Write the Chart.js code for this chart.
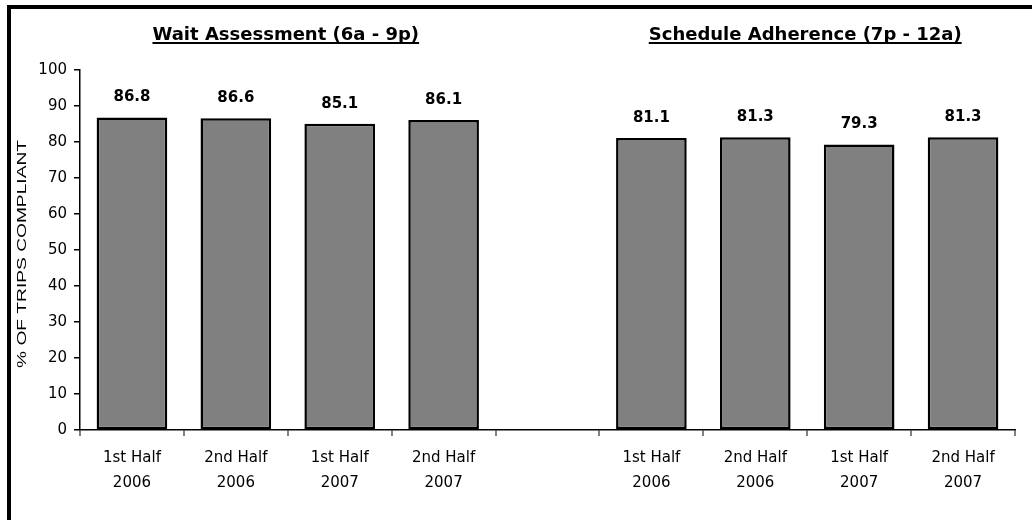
<!DOCTYPE html>
<html>
<head>
<meta charset="utf-8">
<title>Trip Compliance</title>
<script src="https://cdn.jsdelivr.net/npm/chart.js@4.4.1/dist/chart.umd.min.js"></script>
<style>
  html, body { margin: 0; padding: 0; background: #fff; overflow: hidden; }
  #wrap { position: relative; width: 1032px; height: 520px; }
</style>
</head>
<body>
<div id="wrap"><canvas id="c" width="1032" height="520"></canvas></div>
<script>
// Reporting periods shown under each group
const periods = [['1st Half', '2006'], ['2nd Half', '2006'], ['1st Half', '2007'], ['2nd Half', '2007']];
// Wait Assessment (6a - 9p), % of trips compliant
const waitValues = [86.8, 86.6, 85.1, 86.1];
// Schedule Adherence (7p - 12a), % of trips compliant
const scheduleValues = [81.1, 81.3, 79.3, 81.3];
// Group headings
const groupTitles = ['Wait Assessment (6a - 9p)', 'Schedule Adherence (7p - 12a)'];
// Y axis ticks
const yMin = 0, yMax = 100, yStep = 10;
const yTitle = '% OF TRIPS COMPLIANT';

// one empty slot separates the two groups
const labels = [...periods, '', ...periods];
const values = [...waitValues, null, ...scheduleValues];

const FONT = '"DejaVu Sans", Verdana, sans-serif';

const framePlugin = {
  id: 'frame',
  afterDraw(chart) {
    const ctx = chart.ctx;
    ctx.save();
    ctx.fillStyle = '#000';
    ctx.fillRect(7, 5, 4, chart.height - 5);
    ctx.fillRect(7, 5, chart.width - 7, 4);
    ctx.restore();
  }
};

const valueLabels = {
  id: 'valueLabels',
  afterDatasetsDraw(chart) {
    const ctx = chart.ctx;
    const meta = chart.getDatasetMeta(0);
    ctx.save();
    ctx.font = 'bold 15px ' + FONT;
    ctx.fillStyle = '#000';
    ctx.textAlign = 'center';
    ctx.textBaseline = 'middle';
    meta.data.forEach((bar, i) => {
      const v = values[i];
      if (v == null) return;
      ctx.fillText(v.toFixed(1), bar.x, bar.y - 20);
    });
    ctx.restore();
  }
};

// rotated axis title, drawn stretched along its length
const axisTitle = {
  id: 'axisTitle',
  afterDraw(chart) {
    const ctx = chart.ctx;
    const area = chart.chartArea;
    ctx.save();
    ctx.font = '12.5px "Liberation Sans", Arial, sans-serif';
    ctx.fillStyle = '#000';
    ctx.textAlign = 'center';
    ctx.textBaseline = 'middle';
    const w = ctx.measureText(yTitle).width;
    ctx.translate(23, (area.top + area.bottom) / 2 + 4);
    ctx.rotate(-Math.PI / 2);
    ctx.scale(228 / w, 1);
    ctx.fillText(yTitle, 0, 0);
    ctx.restore();
  }
};

const groupHeadings = {
  id: 'groupHeadings',
  afterDraw(chart) {
    const ctx = chart.ctx;
    const x = chart.scales.x;
    const n = periods.length;
    const centers = [
      (x.getPixelForValue(0) + x.getPixelForValue(n - 1)) / 2 - 2,
      (x.getPixelForValue(n + 1) + x.getPixelForValue(2 * n)) / 2 - 2
    ];
    ctx.save();
    ctx.font = 'bold 18px ' + FONT;
    ctx.fillStyle = '#000';
    ctx.strokeStyle = '#000';
    ctx.textAlign = 'center';
    ctx.textBaseline = 'alphabetic';
    const base = 40;
    groupTitles.forEach((t, i) => {
      ctx.fillText(t, centers[i], base);
      const w = ctx.measureText(t).width;
      ctx.lineWidth = 2;
      ctx.beginPath();
      ctx.moveTo(centers[i] - w / 2, base + 3);
      ctx.lineTo(centers[i] + w / 2, base + 3);
      ctx.stroke();
    });
    ctx.restore();
  }
};

new Chart(document.getElementById('c'), {
  type: 'bar',
  data: {
    labels: labels,
    datasets: [{
      data: values,
      backgroundColor: '#808080',
      borderColor: '#000',
      borderWidth: 2.5,
      borderSkipped: false,
      categoryPercentage: 1,
      barPercentage: 0.68
    }]
  },
  options: {
    responsive: false,
    animation: false,
    devicePixelRatio: 1,
    layout: { padding: { left: 11, right: 17, top: 70, bottom: 30 } },
    plugins: {
      legend: { display: false },
      tooltip: { enabled: false },
      title: { display: false }
    },
    scales: {
      x: {
        grid: {
          offset: true,
          drawOnChartArea: false,
          drawTicks: true,
          tickLength: 6,
          color: '#808080',
          lineWidth: 2
        },
        border: { color: '#000', width: 1.5 },
        ticks: {
          color: '#000',
          font: { family: FONT, size: 15, lineHeight: 1.65 },
          padding: 10,
          autoSkip: false,
          maxRotation: 0
        },
        afterFit(scale) { scale.height = 60; }
      },
      y: {
        min: yMin,
        max: yMax,
        ticks: {
          stepSize: yStep,
          color: '#000',
          font: { family: FONT, size: 15 },
          padding: 7
        },
        grid: {
          drawOnChartArea: false,
          drawTicks: true,
          tickLength: 6,
          color: '#000',
          lineWidth: 1.5
        },
        border: { color: '#000', width: 1.5 },
        afterFit(scale) { scale.width = 69; }
      }
    }
  },
  plugins: [valueLabels, axisTitle, groupHeadings, framePlugin]
});
</script>
</body>
</html>
